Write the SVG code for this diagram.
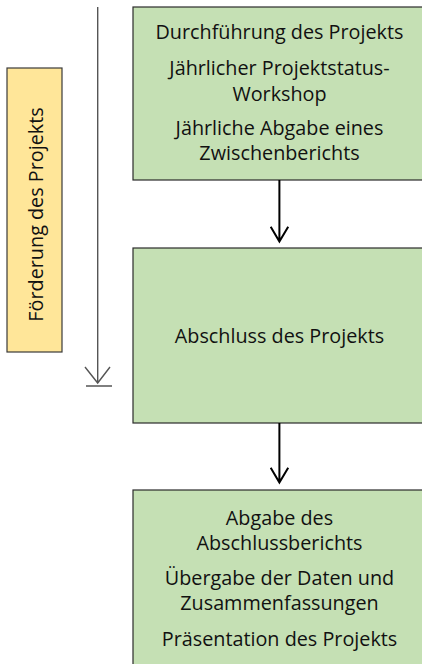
<svg xmlns="http://www.w3.org/2000/svg" width="422" height="664" viewBox="0 0 422 664">
<style>
.box{fill:#C5E0B4;stroke:#2b2b2b;stroke-width:1.2}
.ybox{fill:#FFE699;stroke:#3a3a3a;stroke-width:1.2}
.t{font-family:"Open Sans","Liberation Sans",sans-serif;font-size:19.8px;fill:#111;text-anchor:middle}
.conn{stroke:#000;stroke-width:2;fill:none}
.tl{stroke:#555;stroke-width:1.4;fill:none}
</style>
<rect width="422" height="664" fill="#fff"/>
<g id="foerderung">
<rect class="ybox" x="7" y="68" width="55" height="284"/>
<text class="t" transform="translate(42.5,214.5) rotate(-90)" x="0" y="0">Förderung des Projekts</text>
</g>
<g id="timeline">
<path class="tl" d="M97.7,7 V383 M85,367 L97.7,383 L110,367 M86,386 H112"/>
</g>
<g id="durchfuehrung">
<rect class="box" x="133" y="7" width="295" height="173"/>
<text class="t" x="279.5" y="39">Durchführung des Projekts</text>
<text class="t" x="279.5" y="75">Jährlicher Projektstatus-</text>
<text class="t" x="279.5" y="101">Workshop</text>
<text class="t" x="279.5" y="135">Jährliche Abgabe eines</text>
<text class="t" x="279.5" y="160">Zwischenberichts</text>
</g>
<g id="abschluss">
<rect class="box" x="133" y="248" width="295" height="175"/>
<text class="t" x="279.5" y="343">Abschluss des Projekts</text>
</g>
<g id="abgabe">
<rect class="box" x="133" y="490" width="295" height="190"/>
<text class="t" x="279.5" y="525">Abgabe des</text>
<text class="t" x="279.5" y="550">Abschlussberichts</text>
<text class="t" x="279.5" y="585">Übergabe der Daten und</text>
<text class="t" x="279.5" y="610">Zusammenfassungen</text>
<text class="t" x="279.5" y="646">Präsentation des Projekts</text>
</g>
<g id="connectors">
<path class="conn" d="M279.4,180 V241 M270.7,226.7 L279.4,241.5 L288.2,226.7"/>
<path class="conn" d="M279.4,423 V482 M270.7,467.7 L279.4,482.5 L288.2,467.7"/>
</g>
</svg>
